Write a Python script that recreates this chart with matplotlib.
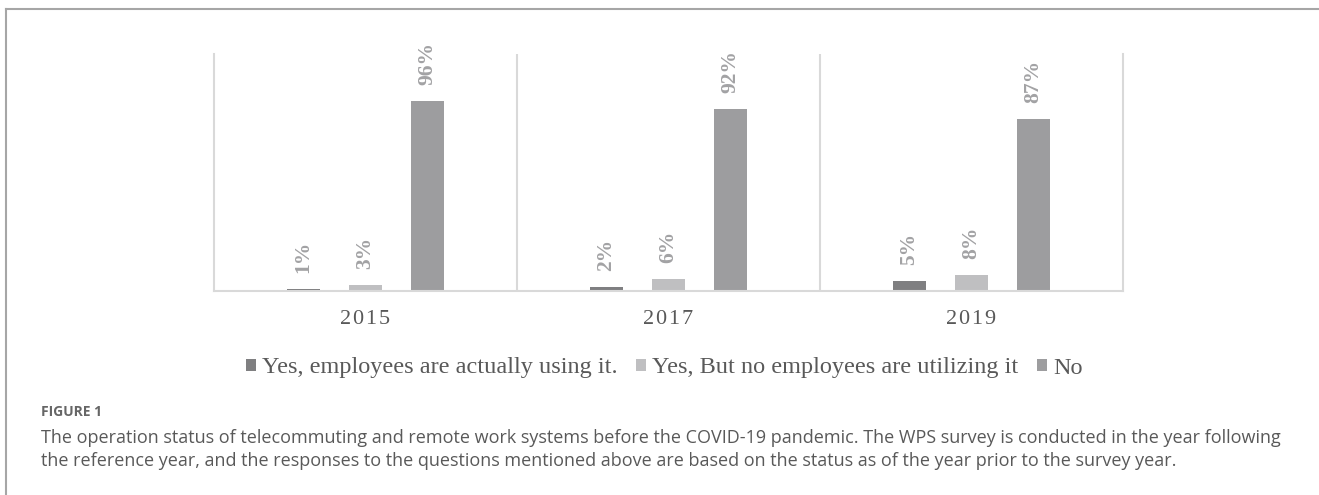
import numpy as np
import matplotlib.pyplot as plt
from matplotlib.lines import Line2D

years = ["2015", "2017", "2019"]
series_names = ["Yes, employees are actually using it.",
                "Yes, But no employees are utilizing it",
                "No"]
using = [1, 2, 5]
not_using = [3, 6, 8]
no_system = [96, 92, 87]
colors = ["#7f7f81", "#bfbfc1", "#9d9d9f"]

caption_head = "FIGURE 1"
caption_lines = [
    "The operation status of telecommuting and remote work systems before the COVID-19 pandemic. "
    "The WPS survey is conducted in the year following",
    "the reference year, and the responses to the questions mentioned above are based on the status "
    "as of the year prior to the survey year.",
]

W, H = 1319, 495
fig = plt.figure(figsize=(W / 100, H / 100), dpi=100)
ax = fig.add_axes([214 / W, 1 - 291 / H, (1123 - 214) / W, (291 - 54) / H])

x = np.arange(len(years))
width = 0.109
step = 0.205
serif = ["Liberation Serif", "DejaVu Serif"]

for i, (vals, name, c) in enumerate(zip([using, not_using, no_system], series_names, colors)):
    pos = x + (i - 1) * step
    bars = ax.bar(pos, vals, width, color=c, label=name)
    for b, v in zip(bars, vals):
        ax.annotate(f"{v}%", (b.get_x() + b.get_width() / 2, b.get_height()),
                    xytext=(0, 11.5), textcoords="offset points",
                    rotation=90, ha="center", va="bottom",
                    fontsize=15.5, fontweight="bold", color="#a2a2a4", family=serif)

ax.set_xlim(-0.5, 2.5)
ax.set_ylim(0, 120)
ax.set_yticks([])
ax.set_xticks(x)
ax.set_xticklabels(["\u200a".join(y) for y in years], family=serif, fontsize=16, color="#595959")
ax.tick_params(axis="x", length=0, pad=14)
ax.spines["top"].set_visible(False)
for s in ["left", "right", "bottom"]:
    ax.spines[s].set_color("#d9d9d9")
    ax.spines[s].set_linewidth(1.5)
for sep in [0.5, 1.5]:
    ax.axvline(sep, color="#d9d9d9", linewidth=1.5)

handles, labels = ax.get_legend_handles_labels()
fig.legend(handles, labels, loc="center", bbox_to_anchor=(664 / W, 1 - 368 / H),
           ncol=3, frameon=False, prop={"family": serif, "size": 17.5},
           handlelength=0.42, handleheight=0.42, handletextpad=0.25, columnspacing=0.75,
           labelcolor="#595959")

# outer frame
fig.add_artist(Line2D([6 / W, 1], [1 - 9 / H, 1 - 9 / H], transform=fig.transFigure,
                      color="#a6a6a6", linewidth=1.5))
fig.add_artist(Line2D([6 / W, 6 / W], [0, 1 - 9 / H], transform=fig.transFigure,
                      color="#a6a6a6", linewidth=1.5))

fig.text(41 / W, 1 - 412 / H, caption_head, family="Open Sans", fontsize=10,
         fontweight="bold", color="#666666", va="center")
for k, line in enumerate(caption_lines):
    fig.text(41 / W, 1 - (438 + 23 * k) / H, line, family="Open Sans", fontsize=13,
             color="#595959", va="center")

plt.savefig("out.png", dpi=100)
